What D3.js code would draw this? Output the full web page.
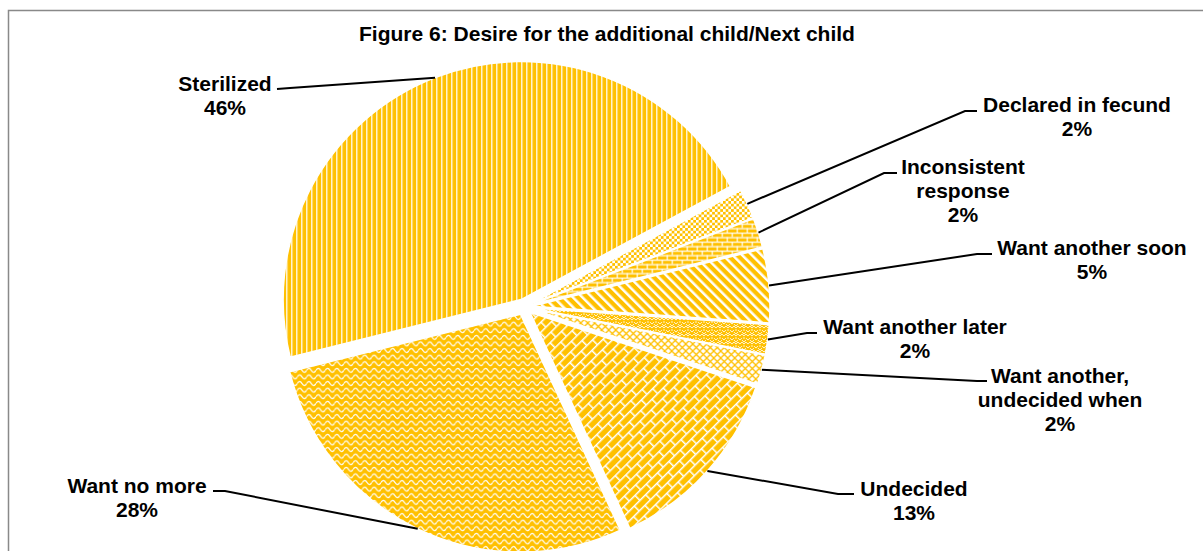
<!DOCTYPE html>
<html><head><meta charset="utf-8">
<script src="https://cdn.jsdelivr.net/npm/d3@7"></script>
<style>
body{margin:0;background:#fff}
svg{display:block}
text{font-family:"Liberation Sans",Arial,sans-serif;font-weight:bold;fill:#000}
</style>
</head><body><svg id="c" width="1203" height="551"></svg>
<script>
// ---- data ----
const title = "Figure 6: Desire for the additional child/Next child";
const categories = ["Sterilized","Declared in fecund","Inconsistent response","Want another soon","Want another later","Want another, undecided when","Undecided","Want no more"];
const values = [46,2,2,5,2,2,13,28];
const labelLines = [["Sterilized"],["Declared in fecund"],["Inconsistent","response"],["Want another soon"],["Want another later"],["Want another,","undecided when"],["Undecided"],["Want no more"]];
const patternIds = ["narrowVertical","smallChecker","horizontalBrick","wideDownDiagonal","weave","outlinedDiamond","diagonalBrick","wave"];

// ---- layout (positions, not data) ----
const cx = 524, cy = 307, R = 238, explode = 8, startDeg = 256;
const labelX = [225,1077,963,1092,915,1060,914,137];
const labelY = [83,104,166,247,326,375,488,485];
const elbow = [[290,88],[965,111],[884,173],[977,254],[807,333],[977,381],[838,494],[225,491]];
const leaderEnd = [[277,89],[977,111],[897,173],[992,254],[817,333],[987,381],[854,494],[213,491]];
const lineGap = 24, fontSize = 21;
const GOLD = "#FFC000";

const svg = d3.select("#c");
const defs = svg.append("defs");

function pat(id, w, h, transform){
  const p = defs.append("pattern").attr("id", id).attr("patternUnits","userSpaceOnUse")
    .attr("width", w).attr("height", h);
  if (transform) p.attr("patternTransform", transform);
  return p;
}
// narrow vertical
let p = pat("narrowVertical", 5, 10);
p.append("rect").attr("width",5).attr("height",10).attr("fill",GOLD);
p.append("rect").attr("x",0).attr("width",1.4).attr("height",10).attr("fill","#fff").attr("opacity",0.9);
// small checker
p = pat("smallChecker", 5.4, 5.4);
p.append("rect").attr("width",5.4).attr("height",5.4).attr("fill",GOLD);
p.append("rect").attr("width",2.7).attr("height",2.7).attr("fill","#fff");
p.append("rect").attr("x",2.7).attr("y",2.7).attr("width",2.7).attr("height",2.7).attr("fill","#fff");
// horizontal brick
p = pat("horizontalBrick", 10, 9);
p.append("rect").attr("width",10).attr("height",9).attr("fill",GOLD);
[[0,0,10,1.2],[0,4.5,10,1.2],[0,0,1.2,4.5],[5,4.5,1.2,4.5]].forEach(r=>p.append("rect").attr("x",r[0]).attr("y",r[1]).attr("width",r[2]).attr("height",r[3]).attr("fill","#fff"));
// wide downward diagonal
p = pat("wideDownDiagonal", 6.8, 10, "rotate(-45)");
p.append("rect").attr("width",6.8).attr("height",10).attr("fill",GOLD);
p.append("rect").attr("width",2.5).attr("height",10).attr("fill","#fff");
// weave
p = pat("weave", 8, 8);
p.append("rect").attr("width",8).attr("height",8).attr("fill",GOLD);
p.append("path").attr("d","M0,4 L2,2 L4,4 L6,2 L8,4 M0,8 L2,6 M6,6 L8,8 M2,0 L4,2 M4,2 L6,0 M3,6 L5,6")
  .attr("stroke","#fff").attr("stroke-width",1).attr("fill","none").attr("opacity",0.85);
// outlined diamond
p = pat("outlinedDiamond", 7, 7);
p.append("rect").attr("width",7).attr("height",7).attr("fill","#fff");
p.append("path").attr("d","M0,0 L7,7 M7,0 L0,7").attr("stroke",GOLD).attr("stroke-width",1.3).attr("fill","none");
// diagonal brick
p = pat("diagonalBrick", 16, 14, "rotate(-45)");
p.append("rect").attr("width",16).attr("height",14).attr("fill",GOLD);
[[0,0,16,1.5],[0,7,16,1.5],[0,0,1.5,7],[8,7,1.5,7]].forEach(r=>p.append("rect").attr("x",r[0]).attr("y",r[1]).attr("width",r[2]).attr("height",r[3]).attr("fill","#fff"));
// wave
p = pat("wave", 9.3, 6.6);
p.append("rect").attr("width",9.3).attr("height",6.6).attr("fill",GOLD);
p.append("path").attr("d","M0,3.3 C1.55,0.7 3.1,0.7 4.65,3.3 S7.75,5.9 9.3,3.3")
  .attr("stroke","#fff").attr("stroke-width",1.3).attr("fill","none");

// frame
svg.append("rect").attr("x",8.5).attr("y",10.5).attr("width",1200).attr("height",560)
  .attr("fill","none").attr("stroke","#898989").attr("stroke-width",1.5);

// title
svg.append("text").attr("x",607).attr("y",33).attr("text-anchor","middle")
  .attr("dominant-baseline","central").style("font-size","21px").text(title);

// pie
const start = startDeg*Math.PI/180;
const pie = d3.pie().sort(null).startAngle(start).endAngle(start+2*Math.PI);
const arcs = pie(values);
const arc = d3.arc().innerRadius(0).outerRadius(R);
const g = svg.append("g").attr("transform",`translate(${cx},${cy})`);
g.selectAll("path").data(arcs).join("path")
  .attr("d", arc)
  .attr("transform", d=>{const a=(d.startAngle+d.endAngle)/2; return `translate(${explode*Math.sin(a)},${-explode*Math.cos(a)})`;})
  .attr("fill",(d,i)=>`url(#${patternIds[i]})`)
  .attr("stroke","#fff").attr("stroke-width",1.5);

// leaders
arcs.forEach((d,i)=>{
  const a=(d.startAngle+d.endAngle)/2;
  const px = cx+(explode+R)*Math.sin(a), py = cy-(explode+R)*Math.cos(a);
  svg.append("path").attr("d",`M${px},${py}L${elbow[i][0]},${elbow[i][1]}L${leaderEnd[i][0]},${leaderEnd[i][1]}`)
    .attr("fill","none").attr("stroke","#000").attr("stroke-width",2);
  const lines = labelLines[i].concat([values[i]+"%"]);
  const t = svg.append("text").attr("text-anchor","middle").style("font-size",fontSize+"px");
  lines.forEach((s,k)=>t.append("tspan").attr("x",labelX[i]).attr("y",labelY[i]+k*lineGap).attr("dominant-baseline","central").text(s));
});
</script></body></html>
